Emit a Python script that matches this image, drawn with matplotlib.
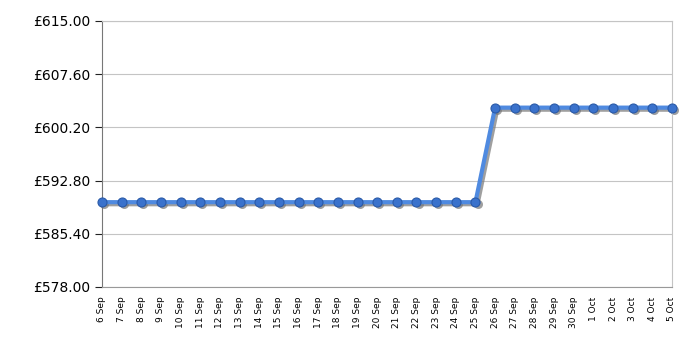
import matplotlib.pyplot as plt
import matplotlib.transforms as mtransforms
import matplotlib.ticker as mticker

# Price history, 6 Sep - 5 Oct
dates = ['6 Sep', '7 Sep', '8 Sep', '9 Sep', '10 Sep', '11 Sep', '12 Sep', '13 Sep',
         '14 Sep', '15 Sep', '16 Sep', '17 Sep', '18 Sep', '19 Sep', '20 Sep', '21 Sep',
         '22 Sep', '23 Sep', '24 Sep', '25 Sep', '26 Sep', '27 Sep', '28 Sep', '29 Sep',
         '30 Sep', '1 Oct', '2 Oct', '3 Oct', '4 Oct', '5 Oct']
prices = [589.80] * 20 + [602.95] * 10
y_ticks = [578.00, 585.40, 592.80, 600.20, 607.60, 615.00]

fig = plt.figure(figsize=(7, 3.5), dpi=100)
ax = fig.add_axes([0.1457, 0.18, 0.8143, 0.76])

x = list(range(len(dates)))

# drop shadow, shifted a couple of pixels right/down
shadow = mtransforms.offset_copy(ax.transData, fig=fig, x=1.5, y=-1.5, units='points')
ax.plot(x, prices, color='#777777', alpha=0.7, lw=3, marker='o', ms=6.5,
        markeredgewidth=0, transform=shadow, zorder=2, clip_on=False)
ax.plot(x, prices, color='#4f8ae0', lw=3, zorder=3, clip_on=False)
ax.plot(x, prices, ls='none', marker='o', ms=6.5, markerfacecolor='#3a72cc',
        markeredgecolor='#2a5aa8', markeredgewidth=0.8, zorder=4, clip_on=False)

ax.set_xlim(0, len(dates) - 1)
ax.set_ylim(y_ticks[0], y_ticks[-1])
ax.set_yticks(y_ticks)
ax.yaxis.set_major_formatter(mticker.FuncFormatter(lambda v, p: f'£{v:.2f}'))

# labels every day, ticks and grid every 3 days
ax.set_xticks(x)
ax.set_xticklabels(dates, rotation=90, fontsize=6.5)
ax.set_xticks(x[::3], minor=True)
ax.tick_params(axis='x', which='major', length=0, pad=7)
ax.tick_params(axis='x', which='minor', length=5, color='#444444')
ax.tick_params(axis='y', length=5, color='#222222', labelsize=10)
ax.grid(True, axis='x', which='minor', color='#c4c4c4', lw=0.8)
ax.grid(True, axis='y', which='major', color='#c4c4c4', lw=0.8)
ax.set_axisbelow(True)

for s in ['top', 'right']:
    ax.spines[s].set_color('#c4c4c4')
ax.spines['left'].set_color('#777777')
ax.spines['bottom'].set_color('#999999')

fig.savefig('out.png', dpi=100)
